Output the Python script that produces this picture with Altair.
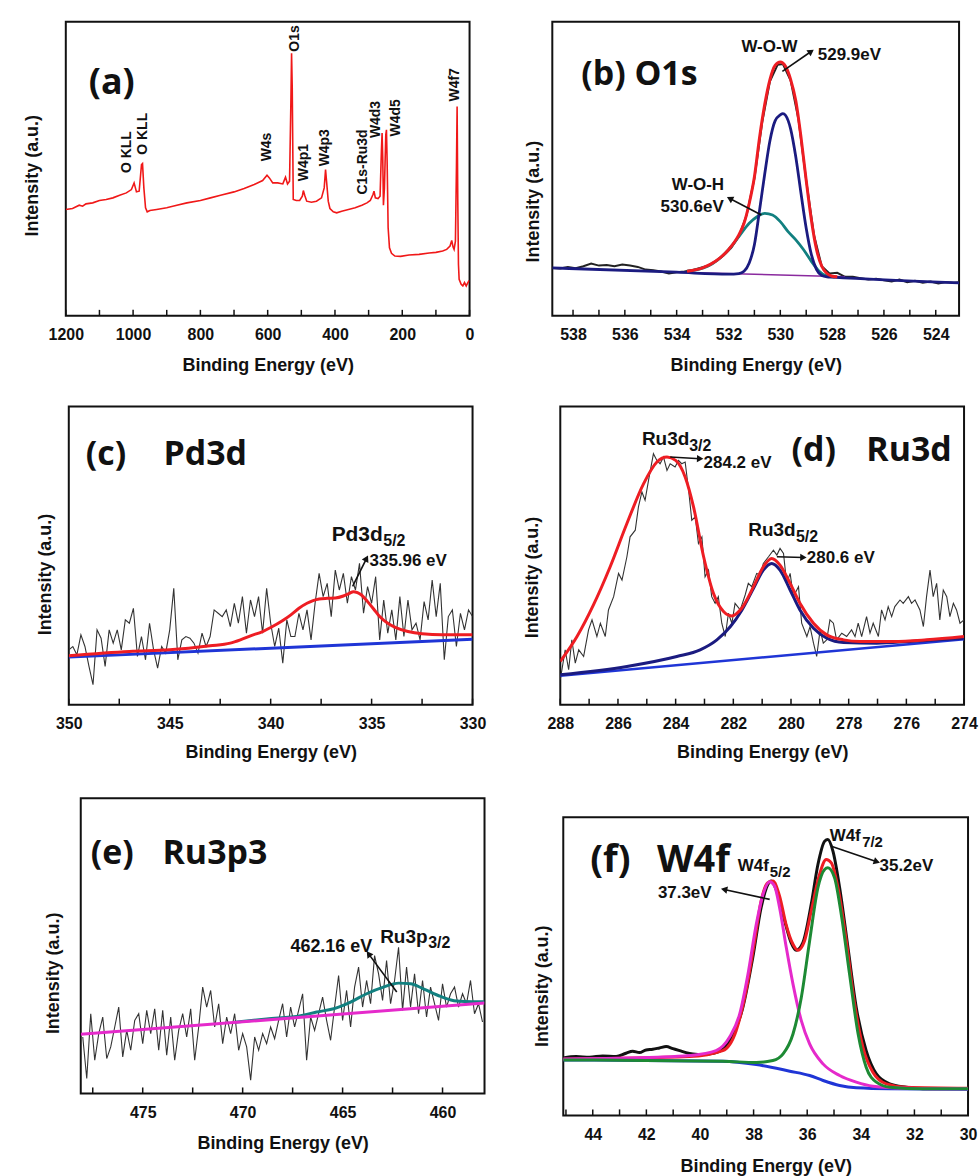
import altair as alt
import pandas as pd

FONT = "Liberation Sans"
TITLE_FONT = "Open Sans"
INK = "#111111"
RED = "#ee1d23"
NAVY = "#1b1b80"
TEAL = "#128080"
BLUE = "#1f35d6"
MAGENTA = "#e52acb"
GREEN = "#1d8a34"
PURPLE = "#8a2a9e"

# ---------------- (a) survey spectrum ----------------
A_EV = [1200, 1180, 1160, 1150, 1140, 1120, 1100, 1080, 1060, 1040, 1020, 1005, 997, 990, 982,
        975, 972, 968, 963, 958, 950, 930, 900, 870, 840, 800, 770, 740, 700, 670, 640, 615, 602,
        595, 585, 570, 555, 547, 541, 535, 531, 529, 527, 524, 515, 505, 497, 494, 490, 484, 470,
        455, 440, 432, 428, 425, 420, 415, 405, 395, 380, 360, 340, 320, 305, 295, 287, 284, 280,
        272, 266, 262, 260, 258, 256, 253, 249, 247, 245, 242, 238, 232, 222, 205, 180, 150, 120,
        100, 80, 68, 58, 53, 49, 46, 42, 39, 37, 35, 33, 31, 25, 20, 15, 10, 5, 1]
A_I = [320, 323, 333, 330, 337, 340, 347, 350, 355, 363, 370, 380, 400, 373, 375,
       455, 458, 385, 325, 313, 317, 320, 325, 333, 340, 347, 355, 363, 373, 383, 395, 407, 423,
       415, 400, 400, 397, 417, 397, 405, 645, 790, 685, 350, 347, 347, 360, 377, 363, 345, 342,
       345, 355, 385, 440, 405, 345, 323, 313, 310, 315, 320, 325, 333, 340, 347, 365, 375, 355,
       353, 360, 495, 550, 475, 333, 385, 545, 560, 465, 265, 205, 188, 180, 179, 183, 185, 189,
       191, 195, 200, 210, 227, 207, 200, 225, 445, 630, 345, 155, 110, 95, 90, 100, 90, 100, 107]
A_PEAKS = ["O KLL", "O KLL", "W4s", "O1s", "W4p1", "W4p3", "C1s-Ru3d", "W4d3", "W4d5", "W4f7"]
A_PEAK_EV = [1017, 971, 602, 518, 492, 430, 316, 277, 219, 44]
A_PEAK_I = [430, 485, 465, 795, 405, 450, 365, 535, 540, 645]
A_MAJOR = [1200, 1000, 800, 600, 400, 200, 0]
A_MINOR = [1100, 900, 700, 500, 300, 100]

# ---------------- (b) O1s ----------------
B_RAW_EV = [538.8, 538.5, 538.2, 537.9, 537.6, 537.3, 537.0, 536.7, 536.4, 536.1,
            535.8, 535.5, 535.2, 534.9, 534.6, 534.3, 534.0, 533.7, 533.4, 533.1,
            532.8, 532.5, 532.2, 531.9, 531.6, 531.3, 531.0, 530.7, 530.4, 530.1,
            529.9, 529.6, 529.3, 529.0, 528.7, 528.4, 528.1, 527.8, 527.5, 527.2,
            526.9, 526.6, 526.3, 526.0, 525.7, 525.4, 525.1, 524.8, 524.5, 524.2,
            523.9, 523.6, 523.3, 523.1]
B_RAW_I = [145, 143, 148, 144, 150, 158, 152, 154, 150, 155,
           152, 148, 140, 138, 134, 128, 132, 134, 138, 145,
           152, 165, 182, 205, 240, 305, 415, 585, 710, 760,
           762, 712, 595, 410, 245, 150, 128, 130, 118, 118,
           114, 110, 112, 108, 104, 110, 102, 106, 100, 104,
           98, 102, 100, 102]
B_WOW_EV = [538.8, 534.0, 532.0, 531.6, 531.4, 531.2, 531.0, 530.8, 530.6, 530.4, 530.2, 530.0,
            529.9, 529.8, 529.6, 529.4, 529.2, 529.0, 528.8, 528.6, 528.4, 528.2, 528.0, 523.1]
B_WOW_I = [145, 132, 126, 128, 135, 160, 215, 320, 430, 530, 590, 608,
           612, 607, 565, 480, 370, 265, 185, 140, 122, 118, 117, 100]
B_WOH_EV = [533.6, 533.2, 532.8, 532.4, 532.0, 531.6, 531.2, 530.9, 530.6, 530.3, 530.0, 529.7,
            529.4, 529.1, 528.8, 528.5, 528.2, 527.9]
B_WOH_I = [135, 140, 150, 170, 200, 240, 280, 300, 310, 305, 285, 255,
           230, 200, 165, 135, 120, 117]
B_ENV_EV = [533.6, 533.0, 532.5, 532.0, 531.6, 531.4, 531.2, 531.0, 530.8, 530.6, 530.4, 530.2,
            530.0, 529.8, 529.6, 529.4, 529.2, 529.0, 528.8, 528.6, 528.4, 528.2, 528.0, 527.8]
B_ENV_I = [135, 145, 165, 200, 245, 280, 340, 420, 540, 640, 715, 758,
           768, 755, 715, 650, 540, 410, 290, 200, 150, 128, 120, 118]
B_BG_EV = [534.0, 527.5]
B_BG_I = [132, 118]
B_MAJOR = [538, 536, 534, 532, 530, 528, 526, 524]
B_MINOR = [537, 535, 533, 531, 529, 527, 525]

# ---------------- (c) Pd3d ----------------
C_RAW_EV = [350.0, 349.8, 349.6, 349.4, 349.2, 349.0, 348.8, 348.6, 348.4, 348.2,
            348.0, 347.8, 347.6, 347.4, 347.2, 347.0, 346.8, 346.6, 346.4, 346.2,
            346.0, 345.8, 345.6, 345.4, 345.2, 345.0, 344.8, 344.6, 344.4, 344.2,
            344.0, 343.8, 343.6, 343.4, 343.2, 343.0, 342.8, 342.6, 342.4, 342.2,
            342.0, 341.8, 341.6, 341.4, 341.2, 341.0, 340.8, 340.6, 340.4, 340.2,
            340.0, 339.8, 339.6, 339.4, 339.2, 339.0, 338.8, 338.6, 338.4, 338.2,
            338.0, 337.8, 337.6, 337.4, 337.2, 337.0, 336.8, 336.6, 336.4, 336.2,
            336.0, 335.8, 335.6, 335.4, 335.2, 335.0, 334.8, 334.6, 334.4, 334.2,
            334.0, 333.8, 333.6, 333.4, 333.2, 333.0, 332.8, 332.6, 332.4, 332.2,
            332.0, 331.8, 331.6, 331.4, 331.2, 331.0, 330.8, 330.6, 330.4, 330.2,
            330.0]
C_RAW_I = [165, 175, 150, 210, 175, 115, 60, 225, 200, 115,
           225, 185, 225, 165, 255, 245, 290, 145, 205, 135,
           245, 165, 110, 175, 155, 225, 350, 135, 195, 205,
           200, 185, 155, 215, 175, 205, 285, 275, 265, 285,
           235, 305, 245, 325, 215, 315, 265, 325, 215, 350,
           245, 175, 230, 125, 255, 205, 205, 275, 225, 285,
           195, 305, 395, 325, 365, 265, 405, 345, 395, 305,
           385, 345, 425, 275, 355, 305, 385, 195, 315, 215,
           285, 195, 325, 205, 315, 225, 245, 195, 310, 255,
           375, 265, 365, 135, 265, 285, 175, 275, 225, 285,
           265]
C_ENV_EV = [350, 347, 345, 343, 342, 341.5, 341, 340.4, 340, 339.4, 339, 338.6, 338.2, 337.9,
            337.6, 337.2, 336.8, 336.4, 336.1, 335.9, 335.7, 335.5, 335.2, 334.9, 334.6, 334.2,
            333.8, 333.2, 332.5, 331.5, 330]
C_ENV_I = [147, 160, 165, 177, 185, 195, 207, 220, 232, 253, 270, 290, 305, 313,
           318, 320, 321, 327, 335, 340, 337, 330, 310, 288, 265, 245,
           232, 220, 213, 210, 210]
C_BG_EV = [350, 330]
C_BG_I = [143, 197]
C_MAJOR = [350, 345, 340, 335, 330]
C_MINOR = [347.5, 342.5, 337.5, 332.5]

# ---------------- (d) Ru3d ----------------
D_RAW_EV = [288.00, 287.83, 287.71, 287.60, 287.48, 287.36, 287.19, 287.02, 286.90, 286.73,
            286.61, 286.44, 286.33, 286.15, 285.98, 285.86, 285.69, 285.58, 285.40, 285.29,
            285.17, 285.06, 284.94, 284.77, 284.65, 284.54, 284.42, 284.30, 284.19, 284.02,
            283.90, 283.79, 283.67, 283.55, 283.44, 283.32, 283.21, 283.09, 282.98, 282.86,
            282.75, 282.63, 282.52, 282.40, 282.28, 282.17, 282.05, 281.94, 281.76, 281.59,
            281.48, 281.36, 281.19, 281.07, 280.96, 280.78, 280.61, 280.49, 280.38, 280.26,
            280.15, 280.03, 279.92, 279.74, 279.63, 279.45, 279.34, 279.22, 279.11, 278.99,
            278.88, 278.76, 278.65, 278.53, 278.42, 278.24, 278.07, 277.90, 277.78, 277.67,
            277.55, 277.38, 277.26, 277.15, 276.97, 276.86, 276.74, 276.63, 276.51, 276.40,
            276.22, 276.11, 275.93, 275.82, 275.70, 275.53, 275.41, 275.30, 275.18, 275.07,
            274.95, 274.84, 274.72, 274.60, 274.49, 274.37, 274.26, 274.14, 274.00]
D_RAW_I = [75, 165, 105, 195, 125, 165, 145, 225, 255, 205,
           245, 205, 285, 325, 395, 375, 445, 505, 525, 595,
           640, 615, 675, 755, 735, 725, 745, 705, 725, 715,
           735, 725, 730, 645, 555, 565, 485, 505, 385, 405,
           325, 305, 325, 245, 205, 275, 245, 305, 285, 330,
           365, 355, 395, 390, 425, 445, 465, 450, 470, 455,
           365, 395, 325, 355, 245, 205, 235, 185, 145, 225,
           185, 195, 255, 245, 195, 215, 205, 225, 205, 245,
           205, 265, 215, 245, 205, 285, 255, 295, 265, 295,
           315, 305, 325, 305, 315, 285, 235, 325, 405, 325,
           365, 255, 345, 325, 265, 305, 285, 245, 255]
D_ENV_EV = [288.0, 287.42, 286.85, 286.27, 285.69, 285.11, 284.65, 284.3, 284.0, 283.67,
            283.38, 283.03, 282.69, 282.34, 282.06, 281.71, 281.3, 280.96, 280.67, 280.38,
            280.03, 279.69, 279.22, 278.76, 278.18, 277.6, 276.45, 275.3, 274.0]
D_ENV_I = [130, 205, 300, 415, 545, 665, 730, 745, 735, 685,
           595, 445, 335, 280, 267, 290, 355, 415, 440, 420,
           365, 305, 245, 210, 195, 190, 190, 195, 205]
D_COMP_EV = [288.0, 285.69, 283.96, 283.15, 282.57, 282.1, 281.7, 281.3, 280.96, 280.67,
             280.38, 280.03, 279.69, 279.22, 278.76, 278.18, 277.03, 275.87, 274.0]
D_COMP_I = [90, 115, 145, 165, 195, 235, 285, 350, 405, 425,
            405, 345, 285, 230, 200, 187, 185, 190, 200]
D_BG_EV = [288, 274]
D_BG_I = [87, 197]
D_MAJOR = [288, 286, 284, 282, 280, 278, 276, 274]
D_MINOR = [287, 285, 283, 281, 279, 277, 275]

# ---------------- (e) Ru3p3 ----------------
E_RAW_EV = [478.0, 477.8, 477.6, 477.4, 477.2, 477.0, 476.8, 476.6, 476.4, 476.2,
            476.0, 475.8, 475.6, 475.4, 475.2, 475.0, 474.8, 474.6, 474.4, 474.2,
            474.0, 473.8, 473.6, 473.4, 473.2, 473.0, 472.8, 472.6, 472.4, 472.2,
            472.0, 471.8, 471.6, 471.4, 471.2, 471.0, 470.8, 470.6, 470.4, 470.2,
            470.0, 469.8, 469.6, 469.4, 469.2, 469.0, 468.8, 468.6, 468.4, 468.2,
            468.0, 467.8, 467.6, 467.4, 467.2, 467.0, 466.8, 466.6, 466.4, 466.2,
            466.0, 465.8, 465.6, 465.4, 465.2, 465.0, 464.8, 464.6, 464.4, 464.2,
            464.0, 463.8, 463.6, 463.4, 463.2, 463.0, 462.8, 462.6, 462.4, 462.2,
            462.0, 461.8, 461.6, 461.4, 461.2, 461.0, 460.8, 460.6, 460.4, 460.2,
            460.0, 459.8, 459.6, 459.4, 459.2, 459.0, 458.8, 458.6, 458.4, 458.2,
            458.0]
E_RAW_I = [170, 45, 240, 100, 180, 230, 105, 140, 200, 260,
           110, 190, 130, 220, 240, 150, 250, 180, 255, 130,
           250, 115, 230, 100, 190, 240, 170, 255, 100, 200,
           320, 260, 310, 200, 270, 150, 230, 180, 240, 130,
           180, 140, 40, 170, 130, 180, 150, 200, 165, 220,
           270, 170, 260, 200, 250, 300, 100, 230, 190, 240,
           290, 220, 160, 260, 355, 220, 310, 200, 320, 380,
           260, 340, 270, 415, 360, 280, 400, 270, 340, 440,
           250, 380, 260, 360, 240, 340, 230, 320, 270, 220,
           330, 260, 300, 320, 260, 300, 270, 340, 240, 270,
           215]
E_COMP_EV = [470.4, 468.8, 467.1, 466.3, 465.45, 464.6, 463.8, 462.96, 462.2, 461.6,
             460.96, 460.1, 459.3, 458.5, 457.9]
E_COMP_I = [214, 224, 234, 245, 255, 275, 300, 320, 332, 330,
            315, 292, 278, 276, 276]
E_BG_EV = [478.1, 457.9]
E_BG_I = [178, 272]
E_MAJOR = [475, 470, 465, 460]
E_MINOR = [477.5, 472.5, 467.5, 462.5]

# ---------------- (f) W4f ----------------
F_RAW_EV = [45.1, 44.62, 44.12, 43.63, 43.13, 42.76, 42.51, 42.26, 42.01, 41.76,
            41.51, 41.26, 41.01, 40.76, 40.52, 40.27, 39.89, 39.52, 39.27, 38.9,
            38.4, 38.03, 37.72, 37.47, 37.34, 37.16, 36.84, 36.6, 36.41, 36.16,
            35.85, 35.6, 35.35, 35.23, 35.04, 34.79, 34.48, 34.17, 33.8, 33.42,
            32.92, 32.3, 31.68, 30.0]
F_RAW_I = [173, 177, 175, 179, 177, 187, 193, 189, 197, 199,
           203, 207, 201, 195, 189, 185, 183, 187, 193, 225,
           325, 475, 625, 695, 705, 680, 585, 520, 497, 520,
           635, 755, 825, 830, 795, 685, 505, 325, 195, 125,
           95, 85, 80, 80]
F_ENV_EV = [45.1, 40.4, 39.15, 38.65, 38.28, 37.96, 37.72, 37.47, 37.28, 37.03,
            36.79, 36.53, 36.35, 36.1, 35.85, 35.54, 35.29, 35.1, 34.85, 34.54,
            34.23, 33.92, 33.55, 33.05, 32.3, 30.0]
F_ENV_I = [169, 177, 195, 255, 375, 525, 645, 700, 705, 660,
           575, 515, 497, 525, 615, 725, 770, 760, 685, 525,
           335, 205, 130, 95, 85, 82]
F_P52_EV = [45.1, 41.6, 40.4, 39.4, 38.9, 38.52, 38.21, 37.9, 37.65, 37.4, 37.22,
            37.03, 36.78, 36.53, 36.22, 35.91, 35.41, 34.79, 34.17, 33.55, 32.3, 30.0]
F_P52_I = [170, 175, 180, 195, 235, 305, 425, 575, 665, 703, 690,
           625, 505, 395, 285, 215, 155, 120, 100, 88, 82, 80]
F_P72_EV = [45.1, 39.15, 37.9, 37.28, 36.9, 36.53, 36.22, 35.91, 35.6, 35.35,
            35.23, 34.98, 34.73, 34.42, 34.1, 33.8, 33.42, 32.92, 31.68, 30.0]
F_P72_I = [167, 163, 159, 165, 185, 245, 355, 525, 685, 740,
           745, 715, 605, 425, 245, 145, 100, 85, 80, 80]
F_BG_EV = [45.1, 39.15, 37.9, 36.65, 35.91, 35.41, 34.79, 34.17, 32.92, 30.0]
F_BG_I = [167, 163, 153, 133, 120, 105, 90, 83, 80, 79]
F_MAJOR = [44, 42, 40, 38, 36, 34, 32, 30]
F_MINOR = [45, 43, 41, 39, 37, 35, 33, 31]

ONE = pd.DataFrame({"k": [0]})


class Panel:
    """One framed spectrum panel with its own energy and intensity scales."""

    def __init__(self, dom_x, dom_y, major, minor, w, h, box, ytitle, xtitle_y):
        self.dom_x, self.dom_y = dom_x, dom_y
        self.major, self.minor = major, minor
        self.w, self.h = w, h
        self.box = box              # room kept around the frame: left, right, top, bottom
        self.ytitle = ytitle
        self.xtitle_y = xtitle_y
        self.layers = []

    def X(self, field="ev"):
        return alt.X(f"{field}:Q",
                     scale=alt.Scale(domain=self.dom_x, nice=False, zero=False),
                     axis=alt.Axis(values=self.major, format="d", ticks=False, tickSize=0,
                                   domain=False, grid=False, labelFont=FONT, labelFontSize=16,
                                   labelFontWeight="bold", labelColor=INK, labelPadding=11,
                                   labelFlush=False, labelOverlap=False, labelBound=False,
                                   title="Binding Energy (eV)", titleFont=FONT, titleFontSize=18,
                                   titleFontWeight="bold", titleColor=INK,
                                   titleY=self.xtitle_y, titleBaseline="middle"))

    def Y(self, field="i"):
        tx, ty = self.ytitle
        return alt.Y(f"{field}:Q",
                     scale=alt.Scale(domain=self.dom_y, nice=False, zero=False),
                     axis=alt.Axis(labels=False, ticks=False, tickSize=0, domain=False, grid=False,
                                   title="Intensity (a.u.)", titleFont=FONT, titleFontSize=18,
                                   titleFontWeight="bold", titleColor=INK, titleX=tx, titleY=ty,
                                   titleBaseline="middle", titleAngle=270))

    def line(self, ev, inten, color, width, interp="monotone"):
        d = pd.DataFrame({"ev": ev, "i": inten})
        self.layers.append(alt.Chart(d).mark_line(color=color, strokeWidth=width,
                                                  interpolate=interp, clip=True)
                           .encode(x=self.X(), y=self.Y()))

    def text(self, labels, ev, inten, size, **kw):
        d = pd.DataFrame({"t": labels, "ev": ev, "i": inten})
        opts = dict(font=FONT, fontWeight="bold", fontSize=size, align="left",
                    baseline="middle", color=INK)
        opts.update(kw)
        self.layers.append(alt.Chart(d).mark_text(**opts)
                           .encode(x=self.X(), y=self.Y(), text="t:N"))

    def arrows(self, tail_ev, tail_i, head_ev, head_i, angles):
        d = pd.DataFrame({"ev": tail_ev, "i": tail_i, "ev2": head_ev, "i2": head_i, "a": angles})
        self.layers.append(alt.Chart(d).mark_rule(color=INK, strokeWidth=1.6)
                           .encode(x=self.X(), x2="ev2:Q", y=self.Y(), y2="i2:Q"))
        self.layers.append(alt.Chart(d).mark_point(shape="triangle-up", filled=True, size=55,
                                                   color=INK, opacity=1)
                           .encode(x=self.X("ev2"), y=self.Y("i2"),
                                   angle=alt.Angle("a:Q", scale=None)))

    def label(self, s, px, py, size=34):
        self.layers.append(alt.Chart(ONE).mark_text(text=s, font=TITLE_FONT, fontSize=size,
                                                     fontWeight="bold", align="left",
                                                     baseline="middle", color=INK)
                           .encode(x=alt.value(px), y=alt.value(py)))

    def build(self):
        lk, rk, tk, bk = self.box
        frame = alt.Chart(ONE).mark_rule(strokeWidth=0, strokeOpacity=0).encode(
            x=alt.value(-lk), x2=alt.value(self.w + rk), y=alt.value(-tk), y2=alt.value(self.h + bk))
        ticks = alt.Chart(pd.DataFrame({"ev": self.major + self.minor})).mark_rule(
            color=INK, strokeWidth=1.5).encode(x=self.X(), y=alt.value(self.h),
                                               y2=alt.value(self.h - 6))
        chart = alt.layer(frame, ticks, *self.layers).properties(width=self.w, height=self.h)
        spacer = alt.Chart(ONE).mark_rule(strokeWidth=0, strokeOpacity=0).encode(
            x=alt.value(0), y=alt.value(0), y2=alt.value(1)).properties(
            width=1, height=1, view=alt.ViewBackground(strokeOpacity=0, fillOpacity=0))
        return alt.hconcat(spacer, chart, spacing=0)


# (a)
pa = Panel([1200, 0], [0, 885], A_MAJOR, A_MINOR, 405, 295, (64, 19, 19, 62), (-33, 154), 50)
pa.line(A_EV, A_I, "#f01818", 1.6, interp="linear")
pa.text(A_PEAKS, A_PEAK_EV, A_PEAK_I, 14, angle=270)
pa.label("(a)", 23, 61, 36)

# (b)
pb = Panel([538.8, 523.1], [0, 890], B_MAJOR, B_MINOR, 408, 295, (61, 10, 19, 62), (-19, 180), 50)
pb.line(B_RAW_EV, B_RAW_I, "#222222", 2, interp="linear")
pb.line(B_BG_EV, B_BG_I, PURPLE, 1.5, interp="linear")
pb.line(B_WOH_EV, B_WOH_I, TEAL, 2.8)
pb.line(B_WOW_EV, B_WOW_I, NAVY, 2.8)
pb.line(B_ENV_EV, B_ENV_I, RED, 3)
pb.text(["W-O-W", "W-O-H", "529.9eV", "530.6eV"],
        [531.5, 534.19, 528.55, 534.62], [815, 395, 790, 330], 17)
pb.arrows([529.92, 530.73], [740, 305], [528.81, 531.95], [800, 355], [55, 298])
pb.label("(b) O1s", 29, 53)

# (c)
pc = Panel([350, 330], [0, 897], C_MAJOR, C_MINOR, 405, 299, (67, 16, 27, 62), (-23, 168), 48)
pc.line(C_RAW_EV, C_RAW_I, "#333333", 1.1, interp="linear")
pc.line(C_BG_EV, C_BG_I, BLUE, 3, interp="linear")
pc.line(C_ENV_EV, C_ENV_I, RED, 3)
pc.text(["Pd3d"], [336.98], [509], 21)
pc.text(["5/2"], [334.42], [491], 16)
pc.text(["335.96 eV"], [335.1], [431], 17)
pc.arrows([335.94], [356], [335.25], [440], [27])
pc.label("(c)", 17, 49)
pc.label("Pd3d", 95, 49)

# (d)
pd_ = Panel([288, 274], [0, 897], D_MAJOR, D_MINOR, 405, 299, (69, 10, 27, 62), (-28, 171), 48)
pd_.line(D_RAW_EV, D_RAW_I, "#333333", 1.1, interp="linear")
pd_.line(D_BG_EV, D_BG_I, BLUE, 2.5, interp="linear")
pd_.line(D_COMP_EV, D_COMP_I, NAVY, 3)
pd_.line(D_ENV_EV, D_ENV_I, RED, 3)
pd_.text(["Ru3d", "Ru3d"], [285.17, 281.48], [800, 525], 19)
pd_.text(["3/2", "5/2"], [283.53, 279.83], [777, 503], 16)
pd_.text(["284.2 eV", "280.6 eV"], [283.03, 279.45], [727, 440], 17)
pd_.arrows([284.19, 280.49], [745, 445], [283.15, 279.57], [740, 443], [92, 91])
pd_.label("(d)", 232, 45)
pd_.label("Ru3d", 307, 45)

# (e)
pe = Panel([478.1, 457.9], [0, 888], E_MAJOR, E_MINOR, 405, 296, (79, 4, 30, 70), (-27, 175), 50)
pe.line(E_RAW_EV, E_RAW_I, "#333333", 1.1, interp="linear")
pe.line(E_COMP_EV, E_COMP_I, TEAL, 3)
pe.line(E_BG_EV, E_BG_I, MAGENTA, 3, interp="linear")
pe.text(["Ru3p"], [463.12], [470], 19)
pe.text(["3/2"], [460.72], [452], 16)
pe.text(["462.16 eV"], [467.61], [440], 18)
pe.arrows([462.29], [305], [463.7], [420], [324])
pe.label("(e)", 10, 56)
pe.label("Ru3p3", 82, 56)

# (f)
pf = Panel([45.1, 30.0], [0, 897], F_MAJOR, F_MINOR, 406, 299, (72, 8, 49, 60), (-21, 169), 51)
pf.line(F_RAW_EV, F_RAW_I, "#111111", 3)
pf.line(F_ENV_EV, F_ENV_I, RED, 3)
pf.line(F_BG_EV, F_BG_I, BLUE, 3)
pf.line(F_P52_EV, F_P52_I, MAGENTA, 3)
pf.line(F_P72_EV, F_P72_I, GREEN, 3)
pf.text(["W4f", "W4f"], [35.16, 38.59], [840, 750], 17)
pf.text(["7/2", "5/2"], [33.95, 37.4], [822, 733], 15)
pf.text(["35.2eV", "37.3eV"], [33.3, 41.57], [750, 670], 17)
pf.arrows([35.1, 37.4], [810, 650], [33.4, 39.1], [763, 680], [108, 282])
pf.label("(f)", 27, 44, 38)
pf.label("W4f", 94, 44, 38)

left = alt.vconcat(pa.build(), pc.build(), pe.build(), spacing=0)
right = alt.vconcat(pb.build(), pd_.build(), pf.build(), spacing=0)

chart = alt.hconcat(left, right, spacing=0).properties(
    padding=0, background="white"
).configure_view(stroke=INK, strokeWidth=2)

chart.save("out.html", embed_options={"renderer": "svg", "actions": False})
